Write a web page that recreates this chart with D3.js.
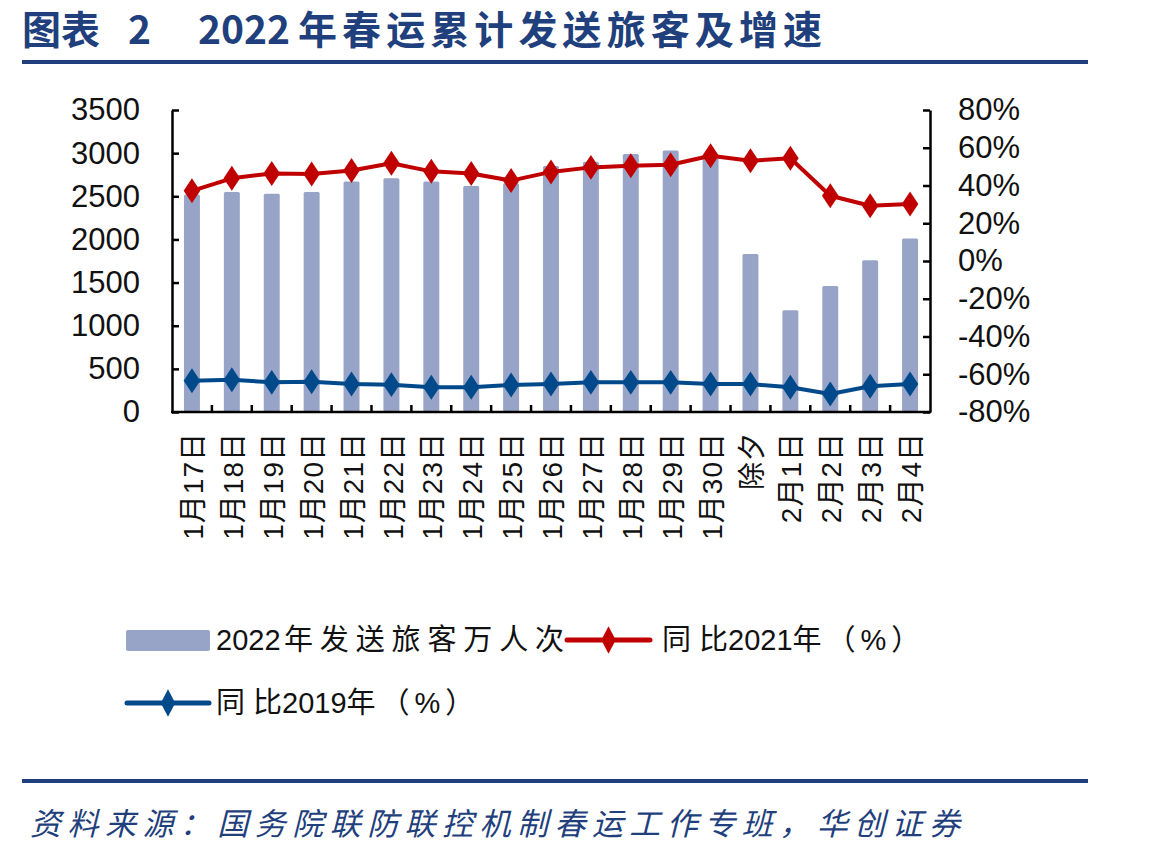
<!DOCTYPE html>
<html>
<head>
<meta charset="utf-8">
<script src="https://cdn.jsdelivr.net/npm/d3@7"></script>
<style>
  body { margin: 0; background: #fff; }
  text { font-family: "Liberation Sans", Arial, "Noto Sans CJK SC", sans-serif; }
</style>
</head>
<body>
<svg width="1149" height="857"></svg>
<script>
// 春运累计发送旅客及增速
var categories = ['1月17日', '1月18日', '1月19日', '1月20日', '1月21日', '1月22日', '1月23日',
  '1月24日', '1月25日', '1月26日', '1月27日', '1月28日', '1月29日', '1月30日', '除夕',
  '2月1日', '2月2日', '2月3日', '2月4日']
var passengers = [2520, 2550, 2530, 2550, 2670, 2710, 2670, 2620, 2650, 2850, 2900, 2990, 3030, 2970, 1830, 1180, 1460, 1760, 2010]
var yoy2021 = [37.2, 43.8, 46.4, 46.1, 47.9, 51.8, 47.5, 46.4, 42.6, 47.2, 49.6, 50.5, 51.0, 55.8, 53.1, 54.4, 34.6, 29.3, 30.2]
var yoy2019 = [-63.4, -62.9, -64.3, -64.0, -65.2, -65.5, -66.9, -66.9, -65.7, -65.2, -64.3, -64.3, -64.3, -65.2, -65.2, -66.9, -70.5, -66.4, -65.2]
var leftTicks = [0, 500, 1000, 1500, 2000, 2500, 3000, 3500]
var rightTicks = [-80, -60, -40, -20, 0, 20, 40, 60, 80]

var navy = '#1f3f7d'
var barColor = '#97a4c8'
var red = '#c00000'
var blue = '#004a8b'

var svg = d3.select('svg')

// title
var title = svg.append('text')
  .attr('y', 44)
  .attr('fill', navy)
  .style('font-family', '"Noto Sans CJK SC", serif')
  .style('font-weight', 700)
  .style('font-size', '39px')
title.append('tspan').attr('x', 22).text('图表')
title.append('tspan').attr('x', 128).text('2')
title.append('tspan').attr('x', 198).text('2022')
title.append('tspan').attr('x', 298).attr('textLength', 524).attr('lengthAdjust', 'spacing')
  .text('年春运累计发送旅客及增速')

svg.append('rect').attr('x', 22).attr('y', 60).attr('width', 1066).attr('height', 4).attr('fill', navy)
svg.append('rect').attr('x', 22).attr('y', 779).attr('width', 1066).attr('height', 4).attr('fill', navy)

svg.append('text')
  .attr('x', 30).attr('y', 835)
  .attr('fill', navy)
  .style('font-family', '"Noto Sans CJK SC", serif')
  .style('font-style', 'italic')
  .style('font-size', '31px')
  .attr('textLength', 930)
  .attr('lengthAdjust', 'spacing')
  .text('资料来源：国务院联防联控机制春运工作专班，华创证券')

// plot area
var x0 = 172, x1 = 930, yTop = 110, yBot = 412

var x = d3.scaleBand().domain(categories).range([x0, x1]).paddingInner(0.6).paddingOuter(0.3)
var yL = d3.scaleLinear().domain([0, 3500]).range([yBot, yTop])
var yR = d3.scaleLinear().domain([-80, 80]).range([yBot, yTop])

var g = svg.append('g')

g.selectAll('rect.bar')
  .data(passengers)
  .enter()
  .append('rect')
  .attr('class', 'bar')
  .attr('x', (d, i) => x(categories[i]))
  .attr('y', d => yL(d))
  .attr('width', x.bandwidth())
  .attr('height', d => yBot - yL(d))
  .attr('rx', 1.5)
  .attr('fill', barColor)

var cx = c => x(c) + x.bandwidth() / 2
var diamond = d3.symbol().type(d3.symbolDiamond).size(180)

function drawLine (vals, color) {
  var line = d3.line().x((d, i) => cx(categories[i])).y(d => yR(d))
  g.append('path').datum(vals)
    .attr('d', line)
    .attr('fill', 'none')
    .attr('stroke', color)
    .attr('stroke-width', 4)
    .attr('stroke-linejoin', 'round')
  g.selectAll(null)
    .data(vals)
    .enter()
    .append('path')
    .attr('d', diamond)
    .attr('transform', (d, i) => 'translate(' + cx(categories[i]) + ',' + yR(d) + ') scale(1.15,1)')
    .attr('fill', color)
}
drawLine(yoy2021, red)
drawLine(yoy2019, blue)

// axes
var leftAxis = d3.axisLeft(yL).tickValues(leftTicks).tickSizeInner(-7).tickSizeOuter(0).tickPadding(32)
  .tickFormat(d3.format('d'))
var rightAxis = d3.axisRight(yR).tickValues(rightTicks).tickSizeInner(-7).tickSizeOuter(0).tickPadding(28)
  .tickFormat(d => d + '%')

var gl = svg.append('g').attr('transform', 'translate(' + x0 + ',0)').call(leftAxis)
var gr = svg.append('g').attr('transform', 'translate(' + x1 + ',0)').call(rightAxis)
;[gl, gr].forEach(a => {
  a.selectAll('path, line').attr('stroke', '#000').attr('stroke-width', 2.5)
  a.selectAll('text').attr('fill', '#111').style('font-size', '31px')
})

// bottom axis line and inner ticks at band boundaries
svg.append('line').attr('x1', x0 - 1).attr('x2', x1 + 1).attr('y1', yBot).attr('y2', yBot)
  .attr('stroke', '#000').attr('stroke-width', 2.5)
var step = x.step()
svg.selectAll('line.btick')
  .data(categories.slice(1))
  .enter()
  .append('line')
  .attr('class', 'btick')
  .attr('x1', d => x(d) - step * x.paddingInner() / 2)
  .attr('x2', d => x(d) - step * x.paddingInner() / 2)
  .attr('y1', yBot).attr('y2', yBot - 7)
  .attr('stroke', '#000').attr('stroke-width', 2.5)

// category labels, rotated
svg.selectAll('text.cat')
  .data(categories)
  .enter()
  .append('text')
  .attr('class', 'cat')
  .attr('transform', d => 'translate(' + (cx(d) + 1) + ',432) rotate(-90)')
  .attr('text-anchor', 'end')
  .attr('dy', '0.36em')
  .attr('fill', '#111')
  .style('font-size', '28px')
  .style('letter-spacing', '1px')
  .text(d => d)

// legend
var lg = svg.append('g')
lg.append('rect').attr('x', 126).attr('y', 630).attr('width', 84).attr('height', 21).attr('rx', 2).attr('fill', barColor)
var t1 = lg.append('text').attr('x', 216).attr('y', 650).attr('fill', '#111').style('font-size', '29px')
t1.append('tspan').text('2022')
t1.append('tspan').attr('x', 284).attr('textLength', 280).attr('lengthAdjust', 'spacing').text('年发送旅客万人次')

function legendLine (xa, xb, y, color) {
  lg.append('line').attr('x1', xa).attr('x2', xb).attr('y1', y).attr('y2', y)
    .attr('stroke', color).attr('stroke-width', 5).attr('stroke-linecap', 'round')
  lg.append('path').attr('d', diamond)
    .attr('transform', 'translate(' + (xa + xb) / 2 + ',' + y + ') scale(1,1.1)')
    .attr('fill', color)
}

function legendText (xs, y, label) {
  // label like 同比2021年（%）: spaced CJK, compact digits
  var t = lg.append('text').attr('x', xs).attr('y', y).attr('fill', '#111').style('font-size', '29px')
  t.append('tspan').style('letter-spacing', '8px').text(label.slice(0, 1))
  t.append('tspan').text(label.slice(1, 6))
  t.append('tspan').style('letter-spacing', '5px').text(label.slice(6))
}

legendLine(567, 650, 640, red)
legendText(662, 650, '同比2021年（%）')

legendLine(127, 209, 703, blue)
legendText(216, 713, '同比2019年（%）')
</script>
</body>
</html>
